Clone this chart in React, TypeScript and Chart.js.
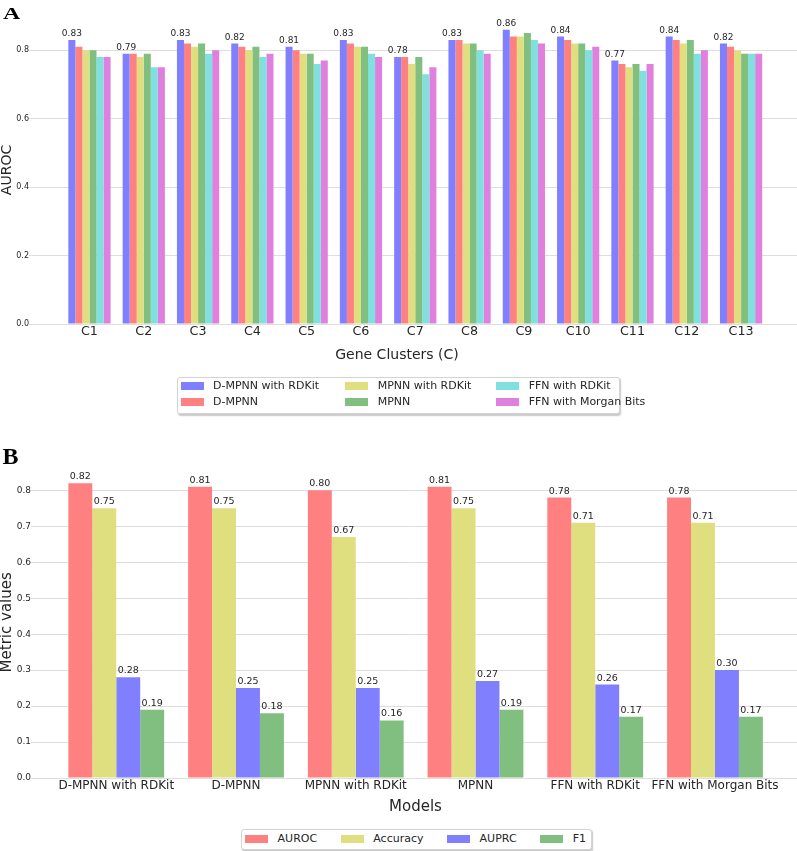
import React, { useEffect, useRef } from 'react';
import { Chart, registerables } from 'chart.js';

Chart.register(...registerables);

// ---------- Panel A data ----------
const CLUSTERS = ['C1', 'C2', 'C3', 'C4', 'C5', 'C6', 'C7', 'C8', 'C9', 'C10', 'C11', 'C12', 'C13'];
const SERIES_A = ['D-MPNN with RDKit', 'D-MPNN', 'MPNN with RDKit', 'MPNN', 'FFN with RDKit', 'FFN with Morgan Bits'];
const DMPNN_RDKIT = [0.83, 0.79, 0.83, 0.82, 0.81, 0.83, 0.78, 0.83, 0.86, 0.84, 0.77, 0.84, 0.82];
const DMPNN = [0.81, 0.79, 0.82, 0.81, 0.80, 0.82, 0.78, 0.83, 0.84, 0.83, 0.76, 0.83, 0.81];
const MPNN_RDKIT = [0.80, 0.78, 0.81, 0.80, 0.79, 0.81, 0.76, 0.82, 0.84, 0.82, 0.75, 0.82, 0.80];
const MPNN = [0.80, 0.79, 0.82, 0.81, 0.79, 0.81, 0.78, 0.82, 0.85, 0.82, 0.76, 0.83, 0.79];
const FFN_RDKIT = [0.78, 0.75, 0.79, 0.78, 0.76, 0.79, 0.73, 0.80, 0.83, 0.80, 0.74, 0.79, 0.79];
const FFN_MORGAN = [0.78, 0.75, 0.80, 0.79, 0.77, 0.78, 0.75, 0.79, 0.82, 0.81, 0.76, 0.80, 0.79];
const Y_TICKS_A = [0, 0.2, 0.4, 0.6, 0.8];

// ---------- Panel B data ----------
const MODELS = ['D-MPNN with RDKit', 'D-MPNN', 'MPNN with RDKit', 'MPNN', 'FFN with RDKit', 'FFN with Morgan Bits'];
const METRICS = ['AUROC', 'Accuracy', 'AUPRC', 'F1'];
const AUROC = [0.82, 0.81, 0.80, 0.81, 0.78, 0.78];
const ACCURACY = [0.75, 0.75, 0.67, 0.75, 0.71, 0.71];
const AUPRC = [0.28, 0.25, 0.25, 0.27, 0.26, 0.30];
const F1 = [0.19, 0.18, 0.16, 0.19, 0.17, 0.17];
const Y_TICKS_B = [0, 0.1, 0.2, 0.3, 0.4, 0.5, 0.6, 0.7, 0.8];

// ---------- styles ----------
const FONT = 'DejaVu Sans';
const TEXT = '#262626';
const GRID = '#dedede';
const BLUE = '#8080ff';
const RED = '#ff8080';
const YELLOW = '#dfdf80';
const GREEN = '#80bf80';
const CYAN = '#80dfdf';
const MAGENTA = '#df80df';

const COLORS_A = [BLUE, RED, YELLOW, GREEN, CYAN, MAGENTA];
const COLORS_B = [RED, YELLOW, BLUE, GREEN];

function valueLabels(which: number[] | null, size: number, gap: number) {
  return {
    id: 'valueLabels',
    afterDatasetsDraw(chart: any) {
      const ctx = chart.ctx;
      ctx.save();
      ctx.font = `${size}px "${FONT}"`;
      ctx.fillStyle = TEXT;
      ctx.textAlign = 'center';
      ctx.textBaseline = 'alphabetic';
      chart.data.datasets.forEach((ds: any, di: number) => {
        if (which && !which.includes(di)) return;
        const meta = chart.getDatasetMeta(di);
        meta.data.forEach((el: any, i: number) => {
          const v = ds.data[i].y as number;
          ctx.fillText(v.toFixed(2), el.x, el.y - gap);
        });
      });
      ctx.restore();
    },
  };
}

function ChartA() {
  const ref = useRef<HTMLCanvasElement | null>(null);
  useEffect(() => {
    if (!ref.current) return;
    const series = [DMPNN_RDKIT, DMPNN, MPNN_RDKIT, MPNN, FFN_RDKIT, FFN_MORGAN];
    const chart = new Chart(ref.current, {
      type: 'bar',
      data: {
        datasets: series.map((vals, k) => ({
          label: SERIES_A[k],
          data: vals.map((y, i) => ({ x: i, y })),
          backgroundColor: COLORS_A[k],
          borderWidth: 0,
          categoryPercentage: 0.778,
          barPercentage: 1,
        })),
      },
      options: {
        responsive: false,
        animation: false,
        layout: { padding: { top: 16, left: 0, right: 0, bottom: 0 } },
        plugins: { legend: { display: false }, tooltip: { enabled: false } },
        scales: {
          x: {
            type: 'linear',
            bounds: 'data',
            min: -1.04,
            max: 13.03,
            offset: false,
            afterBuildTicks: (s: any) => { s.ticks = CLUSTERS.map((_, i) => ({ value: i })); },
            afterFit: (s: any) => { s.height = 38; },
            grid: { display: false, drawTicks: false, tickLength: 0 },
            border: { display: false },
            ticks: {
              autoSkip: false, maxRotation: 0, minRotation: 0, padding: 0, color: TEXT,
              font: { family: FONT, size: 12.7, lineHeight: 1.2 },
              callback: (v: any) => CLUSTERS[Number(v)] ?? '',
            },
            title: { display: false },
          },
          y: {
            type: 'linear',
            bounds: 'data',
            min: 0,
            max: 0.9,
            afterBuildTicks: (s: any) => { s.ticks = Y_TICKS_A.map((v) => ({ value: v })); },
            afterFit: (s: any) => { s.width = 33; },
            grid: { color: GRID, lineWidth: 1, drawTicks: true, tickLength: 4, tickColor: GRID },
            border: { display: false },
            ticks: {
              padding: 0, color: TEXT, font: { family: FONT, size: 8 },
              callback: (v: any) => Number(v).toFixed(1),
            },
            title: {
              display: true, text: 'AUROC', color: TEXT,
              font: { family: FONT, size: 14, lineHeight: 1 }, padding: { top: 0, bottom: 0 },
            },
          },
        },
      } as any,
      plugins: [valueLabels([0], 9, 3.6)],
    });
    return () => chart.destroy();
  }, []);
  return <canvas ref={ref} width={797} height={362} style={{ position: 'absolute', left: 0, top: 0, width: 797, height: 362 }} />;
}

function ChartB() {
  const ref = useRef<HTMLCanvasElement | null>(null);
  useEffect(() => {
    if (!ref.current) return;
    const series = [AUROC, ACCURACY, AUPRC, F1];
    const chart = new Chart(ref.current, {
      type: 'bar',
      data: {
        datasets: series.map((vals, k) => ({
          label: METRICS[k],
          data: vals.map((y, i) => ({ x: i, y })),
          backgroundColor: COLORS_B[k],
          borderWidth: 0,
          categoryPercentage: 0.8,
          barPercentage: 1,
        })),
      },
      options: {
        responsive: false,
        animation: false,
        layout: { padding: { top: 36.6, left: 0, right: 0, bottom: 0 } },
        plugins: { legend: { display: false }, tooltip: { enabled: false } },
        scales: {
          x: {
            type: 'linear',
            bounds: 'data',
            min: -0.687,
            max: 5.685,
            offset: false,
            afterBuildTicks: (s: any) => { s.ticks = MODELS.map((_, i) => ({ value: i })); },
            afterFit: (s: any) => { s.height = 38; },
            grid: { display: false, drawTicks: false, tickLength: 0 },
            border: { display: false },
            ticks: {
              autoSkip: false, maxRotation: 0, minRotation: 0, padding: 1, color: TEXT,
              font: { family: FONT, size: 12, lineHeight: 1.2 },
              callback: (v: any) => MODELS[Number(v)] ?? '',
            },
            title: {
              display: true, text: 'Models', color: TEXT,
              font: { family: FONT, size: 15, lineHeight: 1.2 }, padding: { top: 0, bottom: 0 },
            },
          },
          y: {
            type: 'linear',
            bounds: 'data',
            min: 0,
            max: 0.866,
            afterBuildTicks: (s: any) => { s.ticks = Y_TICKS_B.map((v) => ({ value: v })); },
            afterFit: (s: any) => { s.width = 34; },
            grid: { color: GRID, lineWidth: 1, drawTicks: true, tickLength: 3, tickColor: GRID },
            border: { display: false },
            ticks: {
              padding: 0, color: TEXT, font: { family: FONT, size: 9 },
              callback: (v: any) => Number(v).toFixed(1),
            },
            title: {
              display: true, text: 'Metric values', color: TEXT,
              font: { family: FONT, size: 15, lineHeight: 1 }, padding: { top: 0, bottom: 0 },
            },
          },
        },
      } as any,
      plugins: [valueLabels(null, 9.5, 4)],
    });
    return () => chart.destroy();
  }, []);
  return <canvas ref={ref} width={797} height={386} style={{ position: 'absolute', left: 0, top: 430, width: 797, height: 386 }} />;
}

const patch = (color: string, gap: number): React.CSSProperties => ({
  display: 'inline-block', width: 23, height: 8, background: color, marginRight: gap, flex: 'none',
});

function LegendA() {
  const colLeft = [2.7, 167.4, 318.4];
  const rowCenter = [8, 24.6];
  return (
    <div style={{
      position: 'absolute', left: 177, top: 376.5, width: 443, height: 37, boxSizing: 'border-box',
      border: '1px solid #d4d4d4', borderRadius: 3, boxShadow: '1px 1.5px 1.5px rgba(0,0,0,0.22)',
      fontFamily: FONT, fontSize: 11, color: TEXT, background: '#fff',
    }}>
      {SERIES_A.map((name, k) => (
        <div key={name} style={{
          position: 'absolute', left: colLeft[Math.floor(k / 2)], top: rowCenter[k % 2] - 7, height: 14,
          display: 'flex', alignItems: 'center', whiteSpace: 'nowrap', lineHeight: '14px',
        }}>
          <span style={patch(COLORS_A[k], 9.3)} />
          <span>{name}</span>
        </div>
      ))}
    </div>
  );
}

function LegendB() {
  return (
    <div style={{
      position: 'absolute', left: 240.5, top: 829, width: 351, height: 20.5, boxSizing: 'border-box',
      border: '1px solid #d4d4d4', borderRadius: 3, boxShadow: '1px 1.5px 1.5px rgba(0,0,0,0.22)',
      fontFamily: FONT, fontSize: 11, color: TEXT, background: '#fff',
      display: 'flex', alignItems: 'center', paddingLeft: 3.5, whiteSpace: 'nowrap',
    }}>
      {METRICS.map((name, k) => (
        <div key={name} style={{ display: 'flex', alignItems: 'center', marginRight: 23.5, lineHeight: '14px' }}>
          <span style={patch(COLORS_B[k], 9.6)} />
          <span>{name}</span>
        </div>
      ))}
    </div>
  );
}

export default function App() {
  return (
    <div style={{ position: 'absolute', left: 0, top: 0, width: 797, height: 851, background: '#fff', overflow: 'hidden' }}>
      <ChartA />
      <ChartB />
      <div style={{
        position: 'absolute', left: 297, width: 200, top: 345.6, textAlign: 'center',
        fontFamily: FONT, fontSize: 14, lineHeight: '16.8px', color: TEXT, whiteSpace: 'nowrap',
      }}>Gene Clusters (C)</div>
      <LegendA />
      <LegendB />
      <div style={{
        position: 'absolute', left: 3, top: 3.6, fontFamily: '"Liberation Serif", serif', fontWeight: 'bold',
        fontSize: 24, lineHeight: '24px', color: '#000', transform: 'scaleY(0.73)', transformOrigin: 'top left',
      }}>A</div>
      <div style={{
        position: 'absolute', left: 2.5, top: 444.2, fontFamily: '"Liberation Serif", serif', fontWeight: 'bold',
        fontSize: 24, lineHeight: '24px', color: '#000',
      }}>B</div>
    </div>
  );
}
